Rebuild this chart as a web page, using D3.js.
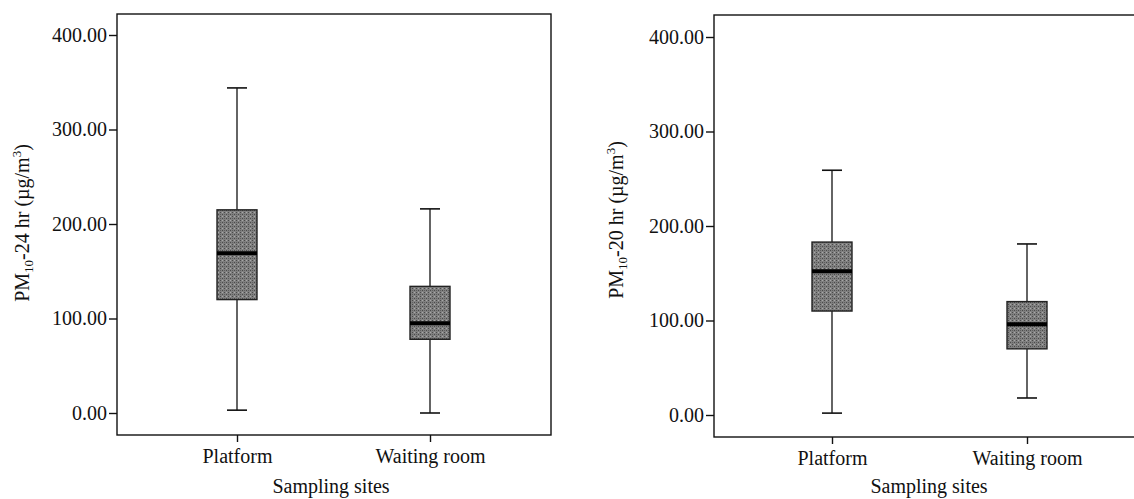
<!DOCTYPE html>
<html><head><meta charset="utf-8">
<script src="https://cdn.jsdelivr.net/npm/d3@7"></script>
<style>body{margin:0;background:#fff}svg{display:block}text{font-family:"Liberation Serif","Times New Roman",serif;fill:#111}</style>
</head><body><svg id="c" width="1134" height="499"></svg>
<script>
const categories = ["Platform", "Waiting room"];
const yTicks = [0, 100, 200, 300, 400];
// [min, q1, median, q3, max]
const pm24 = [[3, 120, 169, 215, 344], [0, 78, 95, 134, 216]];
const pm20 = [[2, 110, 152, 183, 259], [18, 70, 96, 120, 181]];
const yLabels = ["24", "20"];

const svg = d3.select("#c");
const defs = svg.append("defs");
const pat = defs.append("pattern").attr("id", "stip").attr("patternUnits", "userSpaceOnUse").attr("width", 4).attr("height", 4);
pat.append("rect").attr("width", 4).attr("height", 4).attr("fill", "#808080");
pat.append("rect").attr("x", 0).attr("y", 0).attr("width", 1).attr("height", 1).attr("fill", "#4a4a4a");
pat.append("rect").attr("x", 2).attr("y", 2).attr("width", 1).attr("height", 1).attr("fill", "#4a4a4a");
pat.append("rect").attr("x", 2).attr("y", 0).attr("width", 1).attr("height", 1).attr("fill", "#a8a8a8");
pat.append("rect").attr("x", 0).attr("y", 2).attr("width", 1).attr("height", 1).attr("fill", "#606060");

const panels = [
  {data: pm24, lab: yLabels[0], left: 117, right: 551, top: 14, bottom: 435, y0: 413, y400: 35, labX: 29, labY: 223, xTitle: 331},
  {data: pm20, lab: yLabels[1], left: 714, right: 1140, top: 15, bottom: 437, y0: 415, y400: 37, labX: 623, labY: 220, xTitle: 929}
];
const xCenters = [[237, 430], [832, 1027]];

panels.forEach((p, pi) => {
  const g = svg.append("g");
  const y = d3.scaleLinear().domain([0, 400]).range([p.y0, p.y400]);
  const x = d3.scalePoint().domain(categories).range(xCenters[pi]);
  g.append("rect").attr("x", p.left).attr("y", p.top).attr("width", p.right - p.left).attr("height", p.bottom - p.top)
    .attr("fill", "none").attr("stroke", "#111").attr("stroke-width", 1.4);
  const ya = g.append("g").attr("transform", `translate(${p.left},0)`)
    .call(d3.axisLeft(y).tickValues(yTicks).tickFormat(d3.format(".2f")).tickSize(8).tickPadding(2));
  ya.select(".domain").remove();
  ya.selectAll("line").attr("stroke", "#111").attr("stroke-width", 1.4);
  ya.selectAll("text").attr("font-size", 20).attr("fill", "#111").attr("font-family", "Liberation Serif");
  const xa = g.append("g").attr("transform", `translate(0,${p.bottom})`)
    .call(d3.axisBottom(x).tickSize(7).tickPadding(7));
  xa.select(".domain").remove();
  xa.selectAll("line").attr("stroke", "#111").attr("stroke-width", 1.4);
  xa.selectAll("text").attr("font-size", 20).attr("fill", "#111").attr("font-family", "Liberation Serif");
  const bw = 40, cw = 20;
  p.data.forEach((d, i) => {
    const cx = x(categories[i]);
    const b = g.append("g");
    b.append("line").attr("x1", cx).attr("x2", cx).attr("y1", y(d[0])).attr("y2", y(d[1])).attr("stroke", "#111").attr("stroke-width", 1.3);
    b.append("line").attr("x1", cx).attr("x2", cx).attr("y1", y(d[3])).attr("y2", y(d[4])).attr("stroke", "#111").attr("stroke-width", 1.3);
    b.append("line").attr("x1", cx - cw/2).attr("x2", cx + cw/2).attr("y1", y(d[0])).attr("y2", y(d[0])).attr("stroke", "#111").attr("stroke-width", 1.6);
    b.append("line").attr("x1", cx - cw/2).attr("x2", cx + cw/2).attr("y1", y(d[4])).attr("y2", y(d[4])).attr("stroke", "#111").attr("stroke-width", 1.6);
    b.append("rect").attr("x", cx - bw/2).attr("y", y(d[3])).attr("width", bw).attr("height", y(d[1]) - y(d[3]))
      .attr("fill", "url(#stip)").attr("stroke", "#222").attr("stroke-width", 1.4);
    b.append("line").attr("x1", cx - bw/2).attr("x2", cx + bw/2).attr("y1", y(d[2])).attr("y2", y(d[2])).attr("stroke", "#000").attr("stroke-width", 4);
  });
  g.append("text").attr("x", p.xTitle).attr("y", 493).attr("text-anchor", "middle").attr("font-size", 20).text("Sampling sites");
  const t = g.append("text").attr("transform", `translate(${p.labX},${p.labY}) rotate(-90)`).attr("text-anchor", "middle").attr("font-size", 20);
  t.append("tspan").text("PM");
  t.append("tspan").attr("font-size", 13).attr("dy", 4).text("10");
  t.append("tspan").attr("dy", -4).text("-" + p.lab + " hr (µg/m");
  t.append("tspan").attr("font-size", 13).attr("dy", -8).text("3");
  t.append("tspan").attr("dy", 8).text(")");
});
</script></body></html>
